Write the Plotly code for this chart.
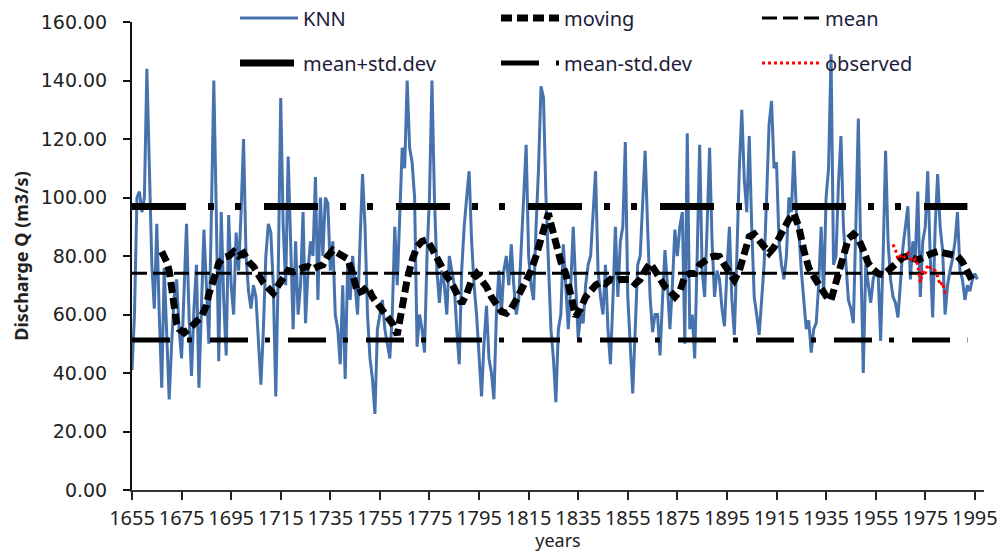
import plotly.graph_objects as go

# ---------------- data ----------------
knn_start = 1655
knn_values = [
    41, 60, 100, 102, 95, 100, 144, 110, 77, 62,      # 1655-1664
    91, 60, 35, 76, 55, 31, 50, 66, 72, 55,           # 1665-1674
    45, 70, 91, 60, 39, 62, 77, 35, 60, 89,           # 1675-1684
    70, 50, 93, 140, 95, 44, 95, 65, 46, 94,          # 1685-1694
    70, 60, 88, 75, 95, 120, 80, 68, 62, 70,          # 1695-1704
    66, 50, 36, 55, 80, 91, 88, 70, 32, 75,           # 1705-1714
    134, 90, 70, 114, 80, 55, 85, 60, 70, 95,         # 1715-1724
    57, 75, 85, 80, 107, 65, 100, 80, 100, 98,        # 1725-1734
    75, 85, 60, 55, 43, 70, 38, 77, 65, 80,           # 1735-1744
    70, 60, 85, 108, 90, 60, 45, 38, 26, 55,          # 1745-1754
    60, 65, 55, 50, 45, 60, 90, 70, 95, 117,          # 1755-1764
    110, 140, 117, 112, 100, 49, 60, 55, 47, 80,      # 1765-1774
    100, 140, 100, 75, 64, 75, 70, 60, 80, 75,        # 1775-1784
    70, 55, 43, 75, 90, 100, 109, 85, 70, 60,         # 1785-1794
    45, 32, 50, 63, 45, 40, 31, 60, 75, 60,           # 1795-1804
    75, 80, 70, 84, 70, 60, 65, 85, 100, 118,         # 1805-1814
    80, 70, 65, 90, 110, 138, 134, 100, 75, 55,       # 1815-1824
    45, 30, 55, 60, 84, 70, 55, 70, 90, 70,           # 1825-1834
    52, 60, 57, 70, 77, 80, 95, 109, 75, 66,          # 1835-1844
    60, 77, 55, 43, 65, 90, 66, 85, 90, 119,          # 1845-1854
    66, 50, 33, 55, 77, 80, 100, 116, 90, 66,         # 1855-1864
    54, 60, 60, 46, 65, 82, 70, 55, 70, 89,           # 1865-1874
    80, 90, 95, 50, 122, 55, 60, 45, 80, 118,         # 1875-1884
    75, 66, 90, 117, 85, 66, 75, 72, 62, 56,          # 1885-1894
    75, 90, 65, 53, 80, 110, 130, 106, 95, 121,       # 1895-1904
    90, 66, 60, 53, 65, 77, 100, 125, 133, 110,       # 1905-1914
    112, 85, 77, 72, 80, 100, 95, 116, 95, 89,        # 1915-1924
    75, 66, 55, 58, 47, 55, 57, 70, 90, 66,           # 1925-1934
    100, 110, 149, 77, 80, 105, 121, 90, 77, 65,      # 1935-1944
    62, 57, 90, 127, 80, 40, 77, 70, 64, 72,          # 1945-1954
    75, 74, 51, 80, 116, 85, 72, 66, 64, 59,          # 1955-1964
    70, 83, 90, 97, 72, 85, 80, 102, 66, 85,          # 1965-1974
    90, 109, 80, 59, 90, 108, 90, 82, 60, 70,         # 1975-1984
    75, 79, 85, 95, 75, 72, 65, 70, 68, 72,           # 1985-1994
    74, 72,                                           # 1995-1996
]
knn_years = list(range(knn_start, knn_start + len(knn_values)))

moving_years = [1667, 1668, 1669, 1670, 1671, 1672, 1673, 1674, 1676, 1678, 1679, 1681, 1683,
                1685, 1686, 1688, 1690, 1692, 1694, 1696, 1698, 1700, 1702, 1704, 1706, 1708,
                1710, 1712, 1714, 1716, 1718, 1720, 1722, 1724, 1726, 1728, 1730, 1732, 1734,
                1736, 1738, 1740, 1742, 1744, 1746, 1748, 1750, 1752, 1754, 1756, 1758, 1760,
                1762, 1763, 1764, 1765, 1766, 1768, 1770, 1772, 1774, 1776, 1778, 1780, 1782,
                1784, 1786, 1788, 1790, 1792, 1794, 1796, 1798, 1800, 1802, 1804, 1806, 1808,
                1810, 1812, 1814, 1816, 1818, 1820, 1822, 1823, 1824, 1826, 1828, 1830, 1832,
                1834, 1836, 1838, 1840, 1842, 1844, 1846, 1848, 1850, 1852, 1854, 1856, 1858,
                1860, 1862, 1864, 1866, 1868, 1870, 1872, 1874, 1876, 1878, 1880, 1882, 1884,
                1886, 1888, 1890, 1892, 1894, 1896, 1898, 1900, 1902, 1904, 1906, 1908, 1910,
                1912, 1914, 1916, 1918, 1920, 1922, 1924, 1926, 1928, 1930, 1932, 1934, 1936,
                1937, 1938, 1940, 1942, 1944, 1946, 1948, 1950, 1952, 1954, 1956, 1958, 1960,
                1962, 1964, 1966, 1968, 1970, 1972, 1974, 1976, 1978, 1980, 1982, 1984, 1986,
                1988, 1990, 1992, 1994]
moving_values = [81.5, 80, 78, 75, 68, 61, 57, 55, 53.7, 55, 55.8, 57, 59.3,
                 63, 67, 72, 77.6, 79.5, 80, 81.5, 80, 81, 78, 76.4, 73, 70.8,
                 69, 67.3, 70, 73, 75, 74.5, 75.5, 76, 76.4, 75.5, 76.4, 77, 80,
                 82, 81, 80, 79, 74, 67.3, 68, 69.5, 66, 63.5, 61, 59, 57,
                 53, 58, 65, 67.5, 72, 78.6, 83.2, 85, 85.5, 82.6, 79, 75.2, 73,
                 70.7, 67, 63.8, 67, 71.8, 74, 72, 69.5, 66, 63, 61, 60.4, 62,
                 65, 68, 71, 75, 80, 86, 93, 94.6, 91, 83.2, 78, 74, 67,
                 59.3, 62, 66, 68, 70, 71, 70.5, 72, 71.5, 72, 71.8, 72, 70.5,
                 72, 75, 77.5, 75, 72, 69.5, 68, 66, 68, 73, 74, 74, 77,
                 78.6, 79.5, 80, 79.8, 77, 74, 71.8, 75, 82, 86.6, 87.5, 85.5, 83,
                 81, 83, 86.6, 90, 92.5, 94.5, 90, 82, 76, 73, 70, 67, 65,
                 65, 68, 76, 82, 86, 87.5, 86, 82, 77.5, 75.5, 74, 73.5, 75,
                 76.4, 78, 79.5, 80, 79, 78.6, 79.5, 80.5, 81, 81.5, 81, 81, 80.5,
                 80, 78, 74, 71.5]

stat_years = [1655, 1992]
mean_value = 74.1
std_value = 22.8
mean_line = [mean_value, mean_value]
mean_plus_line = [mean_value + std_value, mean_value + std_value]
mean_minus_line = [mean_value - std_value, mean_value - std_value]

observed_years = list(range(1962, 1984))
observed_values = [84, 82, 79, 80, 79, 80, 81, 79, 78, 79, 77,
                   71, 75, 74, 77, 76, 76, 75, 73, 70, 71, 67]

x_ticks = list(range(1655, 1996, 20))
y_ticks = list(range(0, 161, 20))

# ---------------- figure ----------------
fig = go.Figure()

fig.add_trace(go.Scatter(x=knn_years, y=knn_values, name="KNN", mode="lines",
                         line=dict(color="#4672AE", width=3), legend="legend"))
fig.add_trace(go.Scatter(x=moving_years, y=moving_values, name="moving", mode="lines",
                         line=dict(color="black", width=7, dash="11px,5px"), legend="legend"))
fig.add_trace(go.Scatter(x=stat_years, y=mean_line, name="mean", mode="lines",
                         line=dict(color="black", width=3, dash="15px,6px"), legend="legend"))
fig.add_trace(go.Scatter(x=stat_years, y=mean_plus_line, name="mean+std.dev", mode="lines",
                         line=dict(color="black", width=7, dash="54px,22px,6px,21px,6px,23px"),
                         legend="legend2"))
fig.add_trace(go.Scatter(x=stat_years, y=mean_minus_line, name="mean-std.dev", mode="lines",
                         line=dict(color="black", width=5, dash="38px,17px,5px,18px"),
                         legend="legend2"))
fig.add_trace(go.Scatter(x=observed_years, y=observed_values, name="observed", mode="lines",
                         line=dict(color="#FF0000", width=3, dash="3px,3px"), legend="legend2"))

W, H = 1003, 552
ml, mr, mt, mb = 132, 19, 22, 62
pw, ph = W - ml - mr, H - mt - mb

legend_common = dict(orientation="h", xanchor="left", yanchor="middle",
                     x=(235 - ml) / pw, bgcolor="rgba(0,0,0,0)",
                     itemwidth=58, entrywidth=188, entrywidthmode="pixels",
                     font=dict(family="Noto Sans", size=20, color="#1c1c3a"),
                     traceorder="normal")

fig.update_layout(
    width=W, height=H,
    margin=dict(l=ml, r=mr, t=mt, b=mb, autoexpand=False),
    paper_bgcolor="white", plot_bgcolor="white",
    showlegend=True,
    legend=dict(legend_common, y=(H - mb - 18) / ph),
    legend2=dict(legend_common, y=(H - mb - 63) / ph),
    xaxis=dict(range=[1655, 1998.7], tickvals=x_ticks, ticktext=[str(v) for v in x_ticks],
               ticks="outside", ticklen=8, tickwidth=1.5, tickcolor="#222",
               showline=True, linecolor="#333", linewidth=2, showgrid=False, zeroline=False,
               tickangle=0, automargin=False,
               tickfont=dict(family="Noto Sans", size=20, color="#222"),
               ticklabelstandoff=1,
               title=dict(text="years", font=dict(family="Noto Sans", size=18, color="#222"),
                          standoff=1)),
    yaxis=dict(range=[0, 160], tickvals=y_ticks, tickformat=".2f",
               ticks="outside", ticklen=7, tickwidth=1.5, tickcolor="#111",
               showline=True, linecolor="#111", linewidth=2, showgrid=False, zeroline=False,
               automargin=False,
               tickfont=dict(family="DejaVu Sans", size=19, color="#222"),
               ticklabelstandoff=12,
               title=dict(text="<b>Discharge Q (m3/s)</b>",
                          font=dict(family="Noto Sans", size=18, color="#222"),
                          standoff=7)),
)

fig.write_html("out.html",
               config={"displayModeBar": False},
               post_script="document.body.style.margin='0px';"
                           "document.body.style.overflow='hidden';")
